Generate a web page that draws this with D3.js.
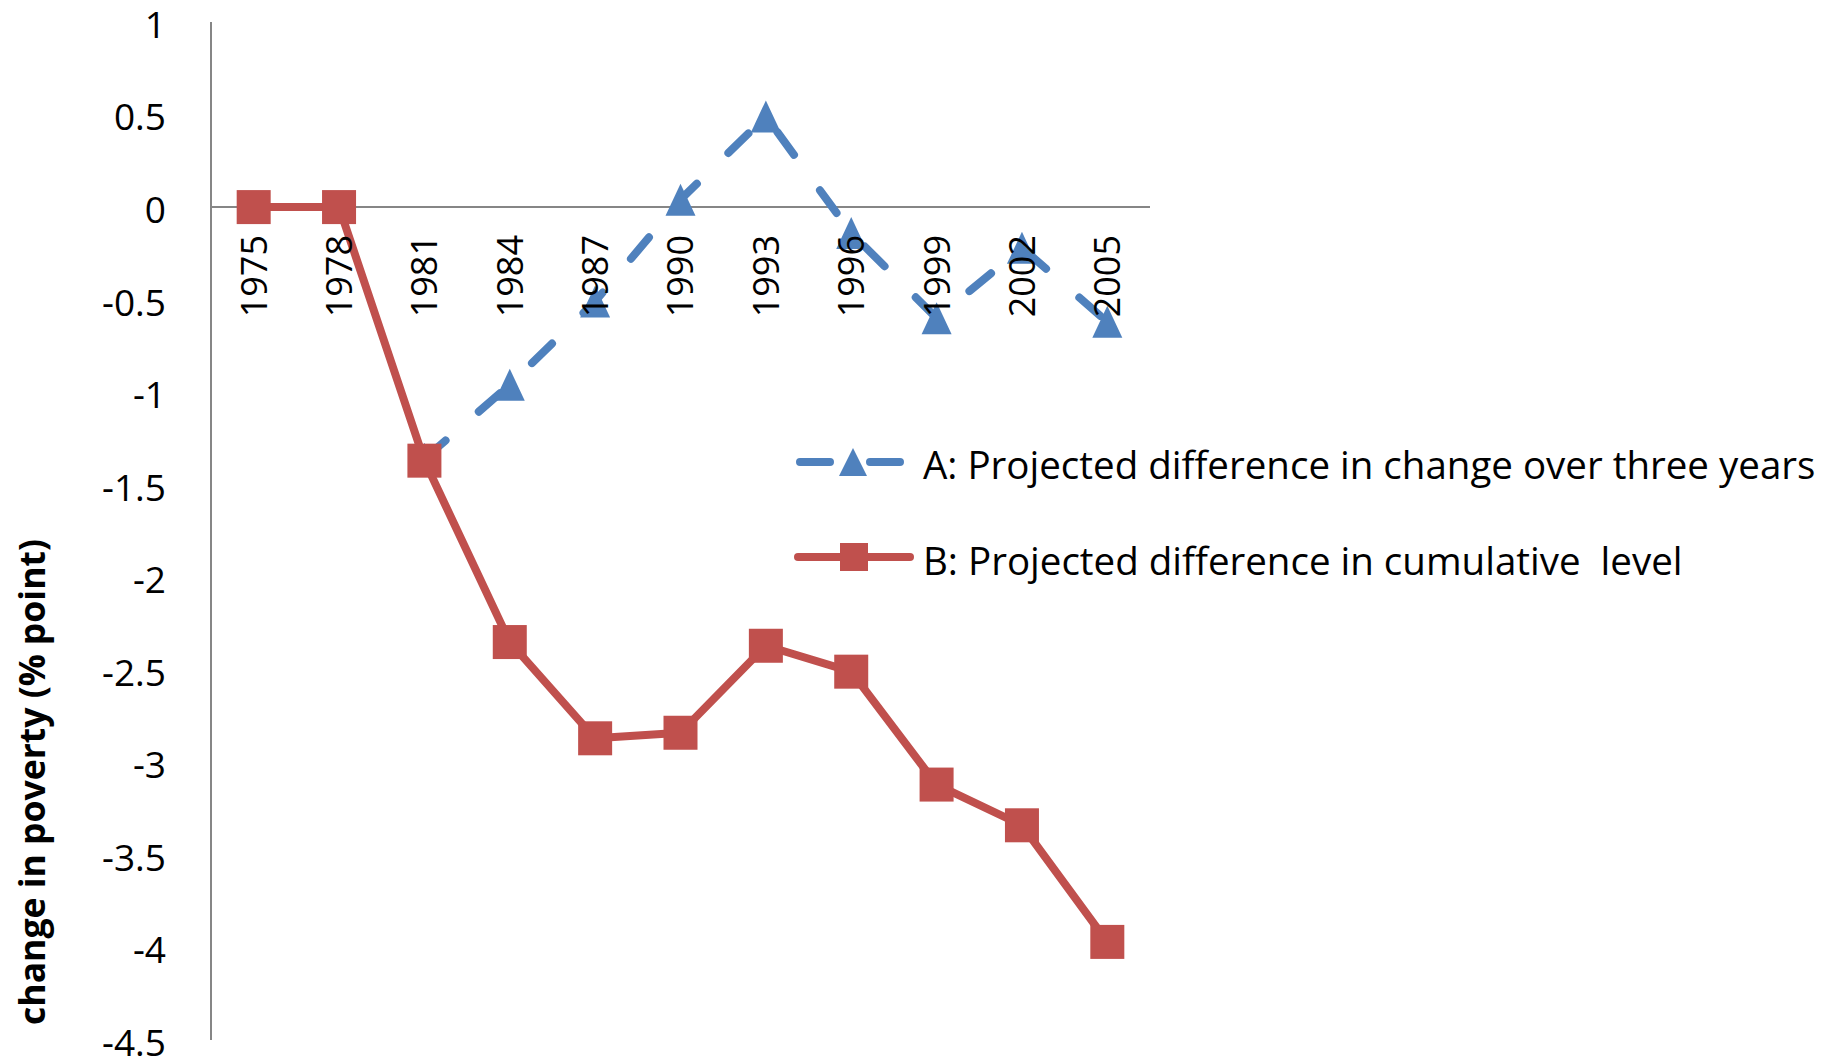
<!DOCTYPE html>
<html>
<head>
<meta charset="utf-8">
<script src="https://cdn.jsdelivr.net/npm/d3@7"></script>
<style>
  html, body { margin: 0; padding: 0; background: #ffffff; }
  svg { display: block; }
  text { font-family: "Open Sans", Lato, sans-serif; fill: #000; }
</style>
</head>
<body>
<svg id="chart" width="1839" height="1059"></svg>
<script>
// ---- data ----
const years = ["1975","1978","1981","1984","1987","1990","1993","1996","1999","2002","2005"];
const seriesA = [null, null, -1.36, -0.96, -0.51, 0.04, 0.49, -0.14, -0.60, -0.22, -0.62];
const seriesB = [0, 0, -1.37, -2.35, -2.87, -2.84, -2.37, -2.51, -3.12, -3.34, -3.97];
const yTicks = [1, 0.5, 0, -0.5, -1, -1.5, -2, -2.5, -3, -3.5, -4, -4.5];
const labelA = "A: Projected difference in change over three years";
const labelB = "B: Projected difference in cumulative  level";
const yTitle = "change in poverty (% point)";

const blue = "#4F81BD", red = "#C0504D", axisGray = "#868686";

const svg = d3.select("#chart");

const x = d3.scalePoint().domain(years).range([211, 1150]).padding(0.5);
const y = d3.scaleLinear().domain([-4.5, 1]).range([1040, 22]);

// y axis line
svg.append("line")
  .attr("x1", 211).attr("x2", 211)
  .attr("y1", y(1)).attr("y2", y(-4.5))
  .attr("stroke", axisGray).attr("stroke-width", 2);

// zero line (category axis)
svg.append("line")
  .attr("x1", 211).attr("x2", 1150)
  .attr("y1", y(0)).attr("y2", y(0))
  .attr("stroke", axisGray).attr("stroke-width", 2);

// y tick labels
svg.append("g").selectAll("text").data(yTicks).join("text")
  .attr("x", 166)
  .attr("y", d => y(d))
  .attr("dy", "0.43em")
  .attr("text-anchor", "end")
  .attr("font-size", 37)
  .text(d => String(d));

// y title
svg.append("text")
  .attr("transform", "translate(45,782) rotate(-90)")
  .attr("text-anchor", "middle")
  .attr("font-size", 35.5)
  .attr("font-weight", "bold")
  .text(yTitle);

const dataA = years.map((yr, i) => ({yr, v: seriesA[i]}));
const dataB = years.map((yr, i) => ({yr, v: seriesB[i]}));

const line = d3.line().defined(d => d.v !== null).x(d => x(d.yr)).y(d => y(d.v));

// series A (dashed, triangles)
svg.append("path")
  .datum(dataA)
  .attr("d", line)
  .attr("fill", "none")
  .attr("stroke", blue)
  .attr("stroke-width", 8)
  .attr("stroke-linecap", "round")
  .attr("stroke-linejoin", "round")
  .attr("stroke-dasharray", "28,44");

const tri = "M0,-16 L15,16 L-15,16 Z";
svg.append("g").selectAll("path").data(dataA.filter(d => d.v !== null)).join("path")
  .attr("transform", d => `translate(${x(d.yr)},${y(d.v)})`)
  .attr("d", tri)
  .attr("fill", blue);

// series B (solid, squares)
svg.append("path")
  .datum(dataB)
  .attr("d", line)
  .attr("fill", "none")
  .attr("stroke", red)
  .attr("stroke-width", 8)
  .attr("stroke-linejoin", "round");

svg.append("g").selectAll("rect").data(dataB).join("rect")
  .attr("x", d => x(d.yr) - 17)
  .attr("y", d => y(d.v) - 17)
  .attr("width", 34).attr("height", 34)
  .attr("fill", red);

// x tick labels (rotated, drawn on top)
svg.append("g").selectAll("text").data(years).join("text")
  .attr("transform", d => `translate(${x(d)},235) rotate(-90)`)
  .attr("text-anchor", "end")
  .attr("dy", "0.36em")
  .attr("font-size", 36)
  .text(d => d);

// legend
const legend = svg.append("g");
legend.append("line")
  .attr("x1", 800).attr("x2", 906).attr("y1", 462).attr("y2", 462)
  .attr("stroke", blue).attr("stroke-width", 8).attr("stroke-linecap", "round")
  .attr("stroke-dasharray", "30,40");
legend.append("path")
  .attr("transform", "translate(853,462)")
  .attr("d", "M0,-14 L14,14 L-14,14 Z")
  .attr("fill", blue);
legend.append("text")
  .attr("x", 923).attr("y", 479)
  .attr("font-size", 38.5)
  .text(labelA);

legend.append("line")
  .attr("x1", 798).attr("x2", 910).attr("y1", 557).attr("y2", 557)
  .attr("stroke", red).attr("stroke-width", 8).attr("stroke-linecap", "round");
legend.append("rect")
  .attr("x", 840).attr("y", 543).attr("width", 28).attr("height", 28)
  .attr("fill", red);
legend.append("text")
  .attr("x", 923).attr("y", 575)
  .attr("font-size", 38.5)
  .style("white-space", "pre")
  .text(labelB);
</script>
</body>
</html>
